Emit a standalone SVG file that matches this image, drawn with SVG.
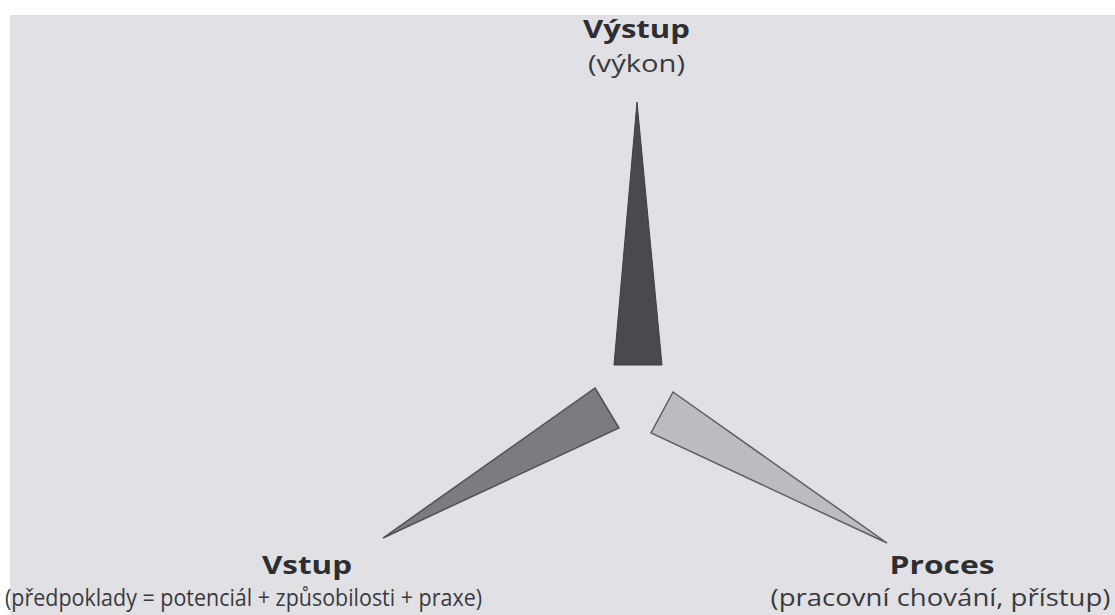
<svg xmlns="http://www.w3.org/2000/svg" width="1115" height="615" viewBox="0 0 1115 615">
<style>
.t{font-family:"Open Sans","Noto Sans","Liberation Sans",sans-serif;fill:#3a3a3e;text-anchor:middle}
.b{font-weight:bold;font-size:25px;fill:#2e2e32}
.s{font-size:23px}
</style>
<rect x="0" y="0" width="1115" height="615" fill="#ffffff"/>
<rect x="10" y="15" width="1105" height="600" fill="#e1e1e5"/>
<g id="output">
<polygon points="637,102 662,365 614,365" fill="#4a4a4e" stroke="#3e3e42" stroke-width="1"/>
<text class="t b" x="636.5" y="38" textLength="107" lengthAdjust="spacingAndGlyphs">Výstup</text>
<text class="t s" x="636.5" y="72" textLength="97" lengthAdjust="spacingAndGlyphs">(výkon)</text>
</g>
<g id="input">
<polygon points="595,388 619,428 383,538" fill="#7c7c80" stroke="#505054" stroke-width="1.5"/>
<text class="t b" x="307" y="574" textLength="90" lengthAdjust="spacingAndGlyphs">Vstup</text>
<text class="t s" x="243.5" y="606" textLength="477" lengthAdjust="spacingAndGlyphs">(předpoklady = potenciál + způsobilosti + praxe)</text>
</g>
<g id="process">
<polygon points="673,392 651,433 887,543" fill="#bcbcc0" stroke="#5e5e62" stroke-width="1.5"/>
<text class="t b" x="942" y="574" textLength="105" lengthAdjust="spacingAndGlyphs">Proces</text>
<text class="t s" x="940.5" y="606" textLength="340" lengthAdjust="spacingAndGlyphs">(pracovní chování, přístup)</text>
</g>
<g id="connectors"></g>
</svg>
